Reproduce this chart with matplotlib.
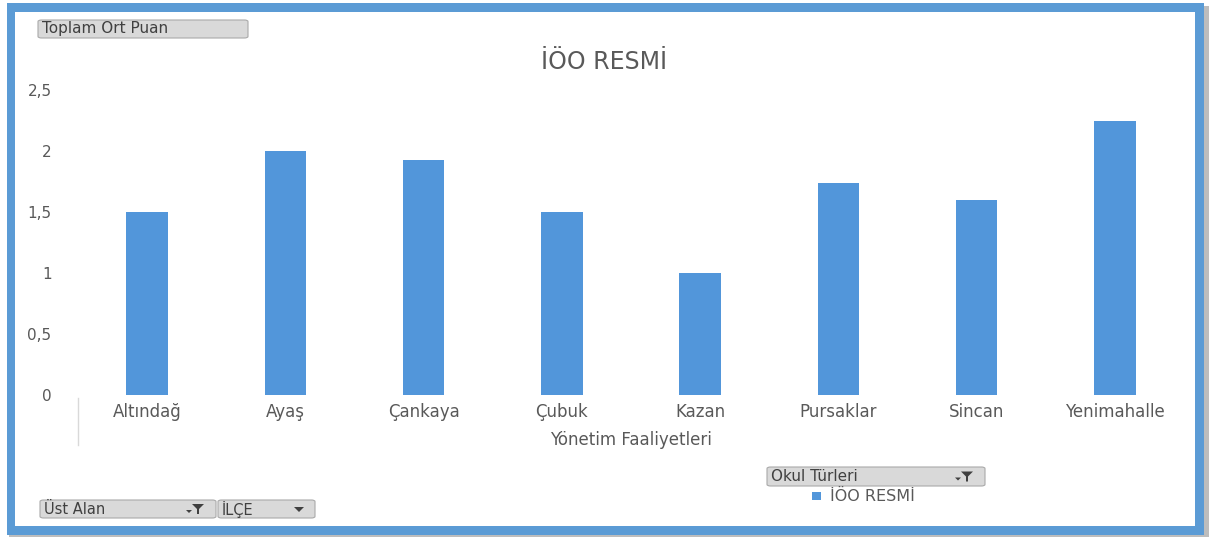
import matplotlib
matplotlib.use("Agg")
import matplotlib.pyplot as plt
from matplotlib.patches import Rectangle, FancyBboxPatch, Polygon

categories = ["Altındağ", "Ayaş", "Çankaya", "Çubuk", "Kazan", "Pursaklar", "Sincan", "Yenimahalle"]
values = [1.5, 2.0, 1.93, 1.5, 1.0, 1.74, 1.6, 2.25]
yticks = [0, 0.5, 1, 1.5, 2, 2.5]
ytick_labels = ["0", "0,5", "1", "1,5", "2", "2,5"]
title = "İÖO RESMİ"
xlabel = "Yönetim Faaliyetleri"
series_name = "İÖO RESMİ"

W, H = 1209, 537
plt.rcParams['font.family'] = ['DejaVu Sans']
fig = plt.figure(figsize=(W / 100, H / 100), dpi=100)
fig.patch.set_facecolor("white")

def fx(px):
    return px / W

def fy(py):
    return 1 - py / H

bar_color = "#5296DA"
text_color = "#595959"

# outer shadow + blue frame
fig.add_artist(Rectangle((fx(9), fy(537)), fx(1200), 531 / H, transform=fig.transFigure,
                         facecolor="#bdbdbd", edgecolor="none", zorder=0))
fig.add_artist(Rectangle((fx(7), fy(535)), fx(1197), 532 / H, transform=fig.transFigure,
                         facecolor="#5B9BD5", edgecolor="none", zorder=0.1))
fig.add_artist(Rectangle((fx(15), fy(526)), fx(1180), 514 / H, transform=fig.transFigure,
                         facecolor="white", edgecolor="none", zorder=0.2))

# main axes
ax = fig.add_axes([fx(78), fy(395), fx(1184 - 78), (395 - 90) / H])
ax.set_zorder(1)
ax.set_facecolor("none")
x = list(range(len(categories)))
ax.bar(x, values, width=0.3, color=bar_color, zorder=3)
ax.set_xlim(-0.5, len(categories) - 0.5)
ax.set_ylim(0, 2.5)
ax.set_yticks(yticks)
ax.set_yticklabels(ytick_labels, color=text_color, fontsize=11)
ax.set_xticks(x)
ax.set_xticklabels(categories, color=text_color, fontsize=12)
ax.tick_params(axis="both", length=0)
ax.tick_params(axis="y", pad=19)
ax.tick_params(axis="x", pad=6)
for s in ax.spines.values():
    s.set_visible(False)
ax.set_xlabel(xlabel, color=text_color, fontsize=12, labelpad=7)
fig.text(0.5, fy(62), title, ha="center", va="center", fontsize=17, color=text_color)

# category divider line at left
fig.add_artist(plt.Line2D([fx(78), fx(78)], [fy(398), fy(445)], transform=fig.transFigure,
                          color="#d9d9d9", lw=1))

# buttons
def button(x0, y0, x1, y1, label, icon=None, fs=10.5):
    fig.add_artist(FancyBboxPatch((fx(x0), fy(y1)), fx(x1 - x0), (y1 - y0) / H,
                                  boxstyle="round,pad=0,rounding_size=0.003",
                                  transform=fig.transFigure, facecolor="#d9d9d9",
                                  edgecolor="#a9a9a9", lw=0.8, zorder=2))
    fig.text(fx(x0 + 4), fy((y0 + y1) / 2), label, ha="left", va="center",
             fontsize=fs, color="#404040", zorder=3)
    if icon == "funnel":
        cx, cy = x1 - 18, (y0 + y1) / 2
        fig.add_artist(Polygon([(fx(cx - 6), fy(cy - 5)), (fx(cx + 6), fy(cy - 5)),
                                (fx(cx + 1), fy(cy)), (fx(cx + 1), fy(cy + 5)),
                                (fx(cx - 1), fy(cy + 5)), (fx(cx - 1), fy(cy))],
                               closed=True, transform=fig.transFigure,
                               facecolor="#404040", edgecolor="none", zorder=3))
        fig.add_artist(Polygon([(fx(cx - 12), fy(cy + 1)), (fx(cx - 6), fy(cy + 1)),
                                (fx(cx - 9), fy(cy + 4))], closed=True,
                               transform=fig.transFigure, facecolor="#404040",
                               edgecolor="none", zorder=3))
    elif icon == "arrow":
        cx, cy = x1 - 16, (y0 + y1) / 2
        fig.add_artist(Polygon([(fx(cx - 5), fy(cy - 2)), (fx(cx + 5), fy(cy - 2)),
                                (fx(cx), fy(cy + 3))], closed=True,
                               transform=fig.transFigure, facecolor="#404040",
                               edgecolor="none", zorder=3))

button(38, 20, 248, 38, "Toplam Ort Puan", fs=11)
button(40, 500, 216, 518, "Üst Alan", icon="funnel")
button(218, 500, 315, 518, "İLÇE", icon="arrow")
button(767, 467, 985, 486, "Okul Türleri", icon="funnel", fs=11)

# legend
fig.add_artist(Rectangle((fx(812), fy(500)), fx(9), 8 / H, transform=fig.transFigure,
                         facecolor=bar_color, edgecolor="none", zorder=3))
fig.text(fx(830), fy(496), series_name, ha="left", va="center", fontsize=11.5,
         color=text_color)

fig.savefig("out.png", dpi=100)
